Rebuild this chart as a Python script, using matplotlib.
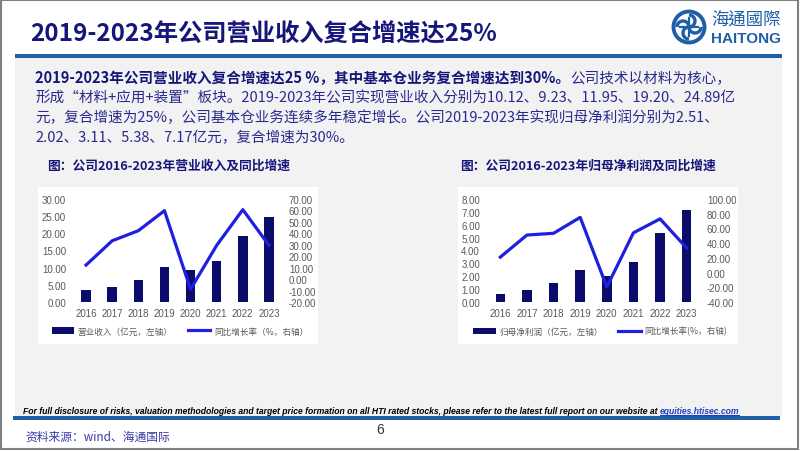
import matplotlib
matplotlib.use("Agg")
import matplotlib.pyplot as plt
from matplotlib import font_manager
from matplotlib.patches import Rectangle, Circle, Arc
from matplotlib.ticker import FormatStrFormatter
import numpy as np

plt.rcParams['font.family'] = ['Noto Sans CJK SC', 'DejaVu Sans']

# 数据
years = ['2016', '2017', '2018', '2019', '2020', '2021', '2022', '2023']
revenue = [3.35, 4.45, 6.35, 10.12, 9.23, 11.95, 19.20, 24.89]
revenue_yoy = [12.3, 33.5, 42.3, 59.8, -8.8, 29.5, 60.7, 29.6]
profit = [0.62, 0.97, 1.48, 2.51, 2.02, 3.11, 5.38, 7.17]
profit_yoy = [21.0, 51.0, 53.4, 75.0, -19.5, 54.0, 73.0, 33.3]

title = '2019-2023年公司营业收入复合增速达25%'
para = [
    [('2019-2023年公司营业收入复合增速达25 %，其中基本仓业务复合增速达到30%。', 'bold'),
     ('公司技术以材料为核心，', 'normal')],
    [('形成“材料+应用+装置”板块。2019-2023年公司实现营业收入分别为10.12、9.23、11.95、19.20、24.89亿', 'normal')],
    [('元，复合增速为25%，公司基本仓业务连续多年稳定增长。公司2019-2023年实现归母净利润分别为2.51、', 'normal')],
    [('2.02、3.11、5.38、7.17亿元，复合增速为30%。', 'normal')],
]
chart1_title = '图：公司2016-2023年营业收入及同比增速'
chart2_title = '图：公司2016-2023年归母净利润及同比增速'
disclaimer = ('For full disclosure of risks, valuation methodologies and target price formation '
              'on all HTI rated stocks, please refer to the latest full report on our website at ')
link = 'equities.htisec.com'
source = '资料来源：wind、海通国际'

navy = '#16167a'
text_blue = '#2a2a8e'
ht_blue = '#1f5fa8'
bar_c = '#0b0b6b'
line_c = '#1f1fdf'
gray = '#595959'

names = {f.name for f in font_manager.fontManager.ttflist}
narrow = 'Liberation Sans Narrow' if 'Liberation Sans Narrow' in names else 'Liberation Sans'

W, H = 802, 452
fig = plt.figure(figsize=(W / 100, H / 100), dpi=100)
bg = fig.add_axes([0, 0, 1, 1], zorder=0)
bg.set_xlim(0, W)
bg.set_ylim(H, 0)
bg.axis('off')
renderer = fig.canvas.get_renderer()

# 背景和框
bg.add_patch(Rectangle((15, 59), 767, 358, color='#f2f2f2', lw=0))
bg.add_patch(Rectangle((15, 55), 767, 4, color=ht_blue, lw=0))
bg.add_patch(Rectangle((13, 417), 767, 4, color=ht_blue, lw=0))
bg.add_patch(Rectangle((38, 188), 280, 157, color='white', lw=0))
bg.add_patch(Rectangle((458, 188), 280, 157, color='white', lw=0))
bg.add_patch(Rectangle((1, 1), 797, 449, fill=False, ec='#7f7f7f', lw=1.5))

# 标题
bg.text(30, 35, title, fontsize=17.5, fontweight='bold', color=navy, va='center')

# logo
cx, cy, r = 689, 28, 15.5
bg.add_patch(Circle((cx, cy), r, fill=False, ec=ht_blue, lw=2.8))
for ang in (0, 90, 180, 270):
    a = np.radians(ang)
    bg.add_patch(Arc((cx + 6 * np.cos(a), cy + 6 * np.sin(a)), 12, 12,
                     theta1=ang, theta2=ang + 200, color=ht_blue, lw=2.4))
bg.plot([cx - 9, cx + 9], [cy, cy], color=ht_blue, lw=1.6)
bg.plot([cx, cx], [cy - 9, cy + 9], color=ht_blue, lw=1.6)
bg.text(711, 21, '海通國際', fontsize=12.5, color=ht_blue, va='center',
        family=['Noto Sans CJK TC', 'DejaVu Sans'])
bg.text(711, 39, 'HAITONG', fontsize=11, fontweight='bold', color=ht_blue, va='center',
        family=narrow)


# 正文，一行里粗细混排
def seg_line(x, y, parts, size):
    for s, weight in parts:
        c = navy if weight == 'bold' else text_blue
        t = bg.text(x, y, s, fontsize=size, fontweight=weight, color=c, va='center', ha='left')
        x += t.get_window_extent(renderer).width


for i, parts in enumerate(para):
    seg_line(35, 78 + i * 20, parts, 10.5)

bg.text(47, 166, chart1_title, fontsize=9.2, fontweight='bold', color=navy, va='center')
bg.text(460, 166, chart2_title, fontsize=9.2, fontweight='bold', color=navy, va='center')


def draw_chart(rect, bars, yoy, lim_l, step_l, lim_r, step_r, bar_label, line_label, leg_x):
    ax = fig.add_axes(rect, zorder=2)
    ax.set_facecolor('none')
    x = np.arange(len(years))
    b = ax.bar(x, bars, width=0.36, color=bar_c, zorder=2)
    ax.set_xlim(-0.5, len(years) - 0.5)
    ax.set_ylim(*lim_l)
    ax.set_yticks(np.arange(lim_l[0], lim_l[1] + step_l / 2, step_l))
    ax.yaxis.set_major_formatter(FormatStrFormatter('%.2f'))
    ax.set_xticks(x)
    ax.set_xticklabels(years)
    ax2 = ax.twinx()
    ax2.set_zorder(3)
    ln, = ax2.plot(x, yoy, color=line_c, lw=2.3)
    ax2.set_ylim(*lim_r)
    ax2.set_yticks(np.arange(lim_r[0], lim_r[1] + step_r / 2, step_r))
    ax2.yaxis.set_major_formatter(FormatStrFormatter('%.2f'))
    for a in (ax, ax2):
        for s in a.spines.values():
            s.set_visible(False)
        a.tick_params(length=0, labelsize=7, labelcolor=gray, pad=5)
        for lab in a.get_xticklabels() + a.get_yticklabels():
            lab.set_family('Liberation Sans')
    ax.tick_params(axis='x', pad=4)
    ax.legend([b, ln], [bar_label, line_label], ncol=2, frameon=False,
              loc='center', bbox_to_anchor=(leg_x / W, 1 - 332 / H),
              bbox_transform=fig.transFigure, prop={'size': 6.2},
              labelcolor=gray, handlelength=2.6, handletextpad=0.4,
              columnspacing=1.8)
    return ax


draw_chart([73 / W, 1 - 303 / H, 209 / W, 103 / H], revenue, revenue_yoy,
           (0, 30), 5, (-20, 70), 10,
           '营业收入（亿元，左轴）', '同比增长率（%，右轴）', 180)
draw_chart([487 / W, 1 - 303 / H, 213 / W, 103 / H], profit, profit_yoy,
           (0, 8), 1, (-40, 100), 20,
           '归母净利润（亿元，左轴）', '同比增长率(%，右轴)', 600)

# 页脚
fam = [narrow, 'DejaVu Sans']
t = bg.text(0, 0, disclaimer + link, fontsize=10, fontweight='bold', style='italic', family=fam)
w10 = t.get_window_extent(renderer).width
t.remove()
fs = 10 * 724 / w10
t = bg.text(23, 412, disclaimer, fontsize=fs, fontweight='bold', style='italic',
            family=fam, color='black', va='center')
x_link = 23 + t.get_window_extent(renderer).width
t2 = bg.text(x_link, 412, link, fontsize=fs, fontweight='bold', style='italic',
             family=fam, color='#1f3fbf', va='center')
w_link = t2.get_window_extent(renderer).width
bg.plot([x_link, x_link + w_link], [416, 416], color='#1f3fbf', lw=0.8)

bg.text(380, 430, '6', fontsize=10, color='#333333', va='center', ha='center',
        family='Liberation Sans')
bg.text(25, 437, source, fontsize=8.5, color='#3a3aa8', va='center')

fig.savefig('out.png', dpi=100)
